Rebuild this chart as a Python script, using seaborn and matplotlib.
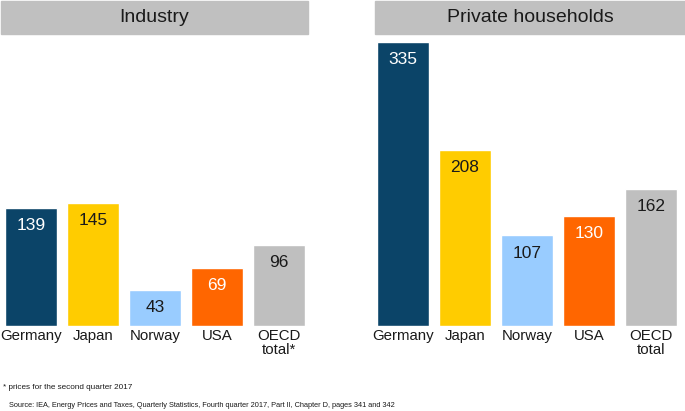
import pandas as pd
import numpy as np

import matplotlib.pyplot as plt
import seaborn as sns
from matplotlib import font_manager
from matplotlib.patches import Rectangle

countries = ['Germany', 'Japan', 'Norway', 'USA', 'OECD']
industry_labels = ['Germany', 'Japan', 'Norway', 'USA', 'OECD\ntotal*']
household_labels = ['Germany', 'Japan', 'Norway', 'USA', 'OECD\ntotal']
industry = [139, 145, 43, 69, 96]
households = [335, 208, 107, 130, 162]
colors = ['#0B4468', '#FFCC00', '#99CCFF', '#FF6600', '#BFBFBF']
label_colors = ['white', '#1a1a1a', '#1a1a1a', 'white', '#1a1a1a']


def draw_panel(ax, values, tick_labels):
    df = pd.DataFrame({'country': countries, 'value': values})
    sns.barplot(data=df, x='country', y='value', hue='country',
                palette=colors, order=countries, width=0.84,
                legend=False, ax=ax, saturation=1)
    for bar, v, c in zip(ax.patches, values, label_colors):
        ax.text(bar.get_x() + bar.get_width() / 2, v - 12, str(v),
                ha='center', va='top', fontsize=12.5, color=c)
    ax.set_xlim(-0.5, 4.5)
    ax.set_ylim(0, 340)
    ax.set_xticks(range(len(countries)))
    ax.set_xticklabels(tick_labels, fontsize=10.8, color='#1a1a1a',
                       linespacing=1.05)
    ax.tick_params(axis='x', length=0, pad=2)
    ax.set_yticks([])
    ax.set_xlabel('')
    ax.set_ylabel('')
    for s in ax.spines.values():
        s.set_visible(False)
    ax.patch.set_alpha(0)


sns.set_theme(style='white')
plt.rcParams['font.family'] = ['Liberation Sans', 'DejaVu Sans']

# narrow font for the footnotes if there is one
try:
    font_manager.findfont('Liberation Sans Narrow', fallback_to_default=False)
    note_family, note_size, src_size = 'Liberation Sans Narrow', 7.2, 6.8
except ValueError:
    note_family, note_size, src_size = 'Liberation Sans', 5.9, 5.3

fig = plt.figure(figsize=(6.85, 4.11), dpi=100)
ax1 = fig.add_axes([0 / 685, 85 / 411, 310 / 685, 288 / 411])
ax2 = fig.add_axes([372 / 685, 85 / 411, 310 / 685, 288 / 411])
draw_panel(ax1, industry, industry_labels)
draw_panel(ax2, households, household_labels)

# grey header boxes
for x0, x1, title in [(1, 308, 'Industry'), (375, 685, 'Private households')]:
    fig.patches.append(Rectangle((x0 / 685, 1 - 34 / 411), (x1 - x0) / 685, 33 / 411,
                                 transform=fig.transFigure, color='#C0C0C0', zorder=0))
    fig.text((x0 + x1) / 2 / 685, 1 - 17.5 / 411, title, ha='center', va='center',
             fontsize=14, color='#1a1a1a')

fig.text(3 / 685, 1 - 387 / 411, '* prices for the second quarter 2017',
         fontsize=note_size, va='center', color='#1a1a1a', family=note_family)
fig.text(9 / 685, 1 - 405 / 411,
         'Source: IEA, Energy Prices and Taxes, Quarterly Statistics, Fourth quarter 2017, '
         'Part II, Chapter D, pages 341 and 342',
         fontsize=src_size, va='center', color='#1a1a1a', family=note_family)

fig.savefig('out.png', dpi=100)
